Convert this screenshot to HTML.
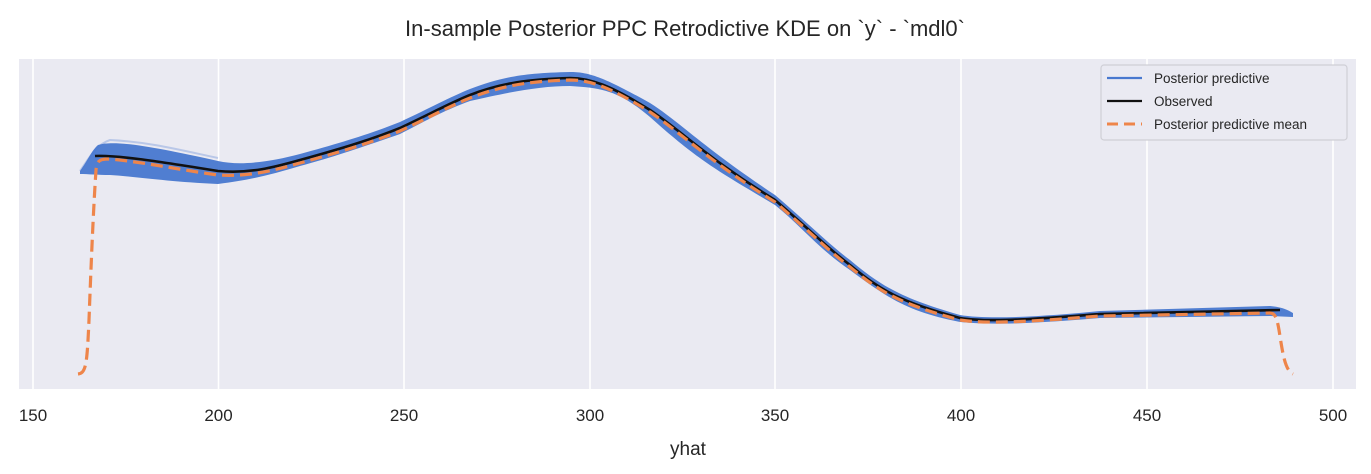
<!DOCTYPE html>
<html><head><meta charset="utf-8"><style>body{margin:0;background:#fff}svg{display:block}</style></head><body>
<svg width="1371" height="474" xmlns="http://www.w3.org/2000/svg" font-family="Liberation Sans, sans-serif">
<text x="685" y="36" text-anchor="middle" font-size="22" fill="#262626">In-sample Posterior PPC Retrodictive KDE on `y` - `mdl0`</text>
<rect x="19" y="59" width="1337" height="330" fill="#eaeaf2"/>
<g stroke="#fff" stroke-width="1.6">
<line x1="33" y1="59" x2="33" y2="389"/><line x1="218.5" y1="59" x2="218.5" y2="389"/><line x1="404" y1="59" x2="404" y2="389"/><line x1="590" y1="59" x2="590" y2="389"/><line x1="775" y1="59" x2="775" y2="389"/><line x1="961" y1="59" x2="961" y2="389"/><line x1="1147" y1="59" x2="1147" y2="389"/><line x1="1333" y1="59" x2="1333" y2="389"/>
</g>
<path d="M80,171 C88,160 92,150 98,145 C115,140 150,146 218,161 C240,166 270,162 300,154 C340,143 370,134 400,122 C430,108 450,97 470,89 C500,78 520,73 570,72 C590,72 605,78 650,103 C680,122 700,145 775,195 C810,225 830,245 850,260 C880,285 900,298 960,315 C990,320 1050,316 1100,311 L1270,306 C1282,307 1288,310 1293,313 L1293,317 L1270,316 L1100,318 C1050,322 1000,326 960,322 C910,312 890,300 850,270 C820,250 800,225 775,205 C720,172 700,162 650,117 C620,92 605,88 570,86 C540,86 510,92 470,101 C440,112 420,124 400,134 C360,148 330,158 300,166 C270,175 250,180 218,184 C170,182 140,177 110,175 C98,175 88,174 80,174 Z" fill="#4878cf" opacity="0.95"/>
<path d="M80,171 C88,160 95,145 110,140 C150,142 180,150 218,158" fill="none" stroke="#4878cf" stroke-width="2" opacity="0.3"/>
<path d="M95,156 C115,155 150,160 218,171 C250,174 275,167 300,160 C340,149 370,140 400,128 C430,114 450,103 470,95 C500,83 530,79 570,78 C590,78 610,85 650,110 C680,130 710,160 775,200 C810,230 830,250 850,265 C880,290 900,302 960,318 C990,323 1050,318 1100,314 L1280,310" fill="none" stroke="#111" stroke-width="2.6"/>
<path d="M78,374 C86,373 87,365 89,320 C92,240 94,200 96,170 C97,160 100,159 110,159 C150,163 180,170 218,175 C250,177 275,170 300,163 C340,152 370,143 400,131 C430,117 450,106 470,98 C500,86 530,81 570,80 C590,80 610,87 650,112 C680,132 710,162 775,202 C810,232 830,252 850,267 C880,292 900,304 960,320 C990,325 1050,320 1100,316 L1270,313 C1275,313 1277,318 1279,330 C1283,355 1285,370 1293,374" fill="none" stroke="#ee854a" stroke-width="3.2" stroke-dasharray="12,6"/>
<g font-size="17" fill="#262626" text-anchor="middle">
<text x="33" y="421">150</text><text x="218.5" y="421">200</text><text x="404" y="421">250</text><text x="590" y="421">300</text><text x="775" y="421">350</text><text x="961" y="421">400</text><text x="1147" y="421">450</text><text x="1333" y="421">500</text>
<text x="688" y="455" font-size="19">yhat</text>
</g>
<rect x="1101" y="65" width="246" height="75" rx="3" fill="#eaeaf2" stroke="#cfcfd6" stroke-width="1.2"/>
<line x1="1107" y1="78" x2="1142" y2="78" stroke="#4878cf" stroke-width="2.2"/>
<line x1="1107" y1="101" x2="1142" y2="101" stroke="#111" stroke-width="2.2"/>
<line x1="1107" y1="124" x2="1142" y2="124" stroke="#ee854a" stroke-width="3" stroke-dasharray="11,6"/>
<g font-size="13.5" fill="#262626">
<text x="1154" y="83">Posterior predictive</text>
<text x="1154" y="106">Observed</text>
<text x="1154" y="129">Posterior predictive mean</text>
</g>
</svg>
</body></html>
